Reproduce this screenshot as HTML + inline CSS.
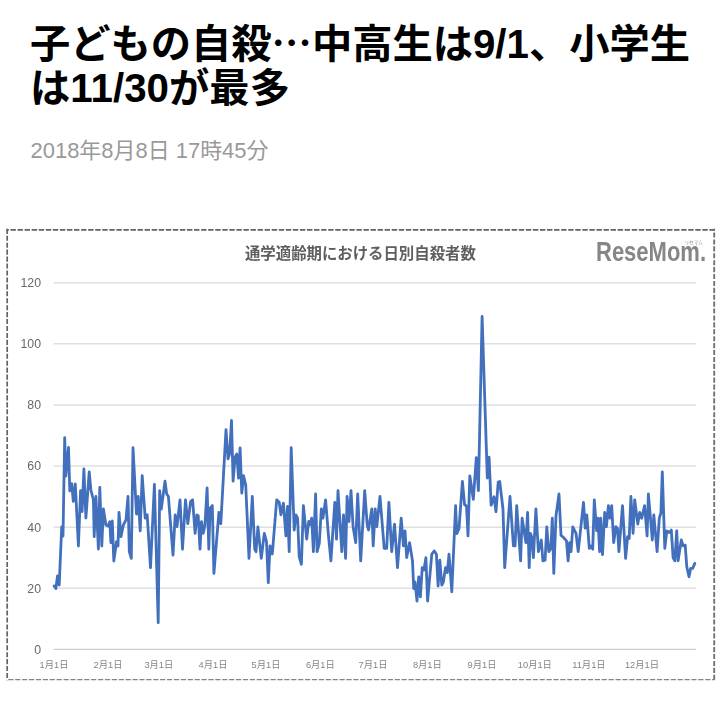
<!DOCTYPE html>
<html lang="ja"><head><meta charset="utf-8"><title>子どもの自殺…中高生は9/1、小学生は11/30が最多</title>
<style>
html,body{margin:0;padding:0;background:#fff}
body{width:720px;height:707px;overflow:hidden;position:relative;font-family:"Liberation Sans",sans-serif;color:#000}
article{position:absolute;left:0;top:0;width:720px;height:707px}
h1,p,figure{margin:0;padding:0;position:absolute;left:0;top:0}
svg{display:block;position:absolute;left:0;top:0}
</style></head><body>
<article>
<h1 aria-label="子どもの自殺…中高生は9/1、小学生は11/30が最多"><svg width="720" height="120" viewBox="0 0 720 120" role="img"><title>子どもの自殺…中高生は9/1、小学生は11/30が最多</title><g fill="#000" font-family="'Liberation Sans','Noto Sans CJK JP',sans-serif" font-size="40" font-weight="bold"><text x="30" y="57.8" textLength="660" lengthAdjust="spacingAndGlyphs">子どもの自殺<tspan font-family="'Noto Sans CJK JP',sans-serif">…</tspan>中高生は9/1、小学生</text><text x="30" y="102.2" textLength="260" lengthAdjust="spacingAndGlyphs">は11/30が最多</text></g></svg></h1>
<p aria-label="2018年8月8日 17時45分"><svg width="720" height="180" viewBox="0 0 720 180" role="img"><title>2018年8月8日 17時45分</title><text x="30.5" y="157.6" font-family="'Liberation Sans','Noto Sans CJK JP',sans-serif" font-size="22" fill="#999" textLength="238" lengthAdjust="spacingAndGlyphs">2018年8月8日 17時45分</text></svg></p>
<figure><svg width="720" height="707" viewBox="0 0 720 707" role="img"><title>通学適齢期における日別自殺者数 ReseMom</title><defs><filter id="soft" x="-5%" y="-5%" width="110%" height="110%"><feGaussianBlur stdDeviation="0.45"/></filter></defs><g filter="url(#soft)">
<g fill="none"><path d="M6.4 229.8H714.9" stroke="#636363" stroke-width="1.7" stroke-dasharray="5.4 1.66" stroke-dashoffset="2.98"/><path d="M6.4 679.6H714.9" stroke="#858585" stroke-width="1.15" stroke-dasharray="5.2 1.7" stroke-dashoffset="5.0"/><path d="M7.2 228.8V680.2" stroke="#636363" stroke-width="1.7" stroke-dasharray="5.1 1.84"/><path d="M714.2 228.8V680.2" stroke="#6e6e6e" stroke-width="1.8" stroke-dasharray="5.1 1.81" stroke-dashoffset="3.2"/></g>
<g stroke="#e0e0e0" stroke-width="1.5"><line x1="53.5" x2="696" y1="588.3" y2="588.3"/><line x1="53.5" x2="696" y1="527.2" y2="527.2"/><line x1="53.5" x2="696" y1="466.0" y2="466.0"/><line x1="53.5" x2="696" y1="404.9" y2="404.9"/><line x1="53.5" x2="696" y1="343.8" y2="343.8"/><line x1="53.5" x2="696" y1="282.7" y2="282.7"/></g>
<line x1="53.5" x2="696" y1="649.4" y2="649.4" stroke="#cdcdcd" stroke-width="1.4"/>
<g fill="#686868" font-family="'Liberation Sans',sans-serif" font-size="12.3" text-anchor="end"><text x="41" y="653.7">0</text><text x="41" y="592.6">20</text><text x="41" y="531.5">40</text><text x="41" y="470.4">60</text><text x="41" y="409.3">80</text><text x="41" y="348.15">100</text><text x="41" y="287">120</text></g>
<g fill="#858585" font-family="'Liberation Sans','Noto Sans CJK JP',sans-serif" font-size="9.3"><text x="39.5" y="667.7">1月1日</text><text x="93.5" y="667.7">2月1日</text><text x="144.4" y="667.7">3月1日</text><text x="198.5" y="667.7">4月1日</text><text x="251.5" y="667.7">5月1日</text><text x="305.9" y="667.7">6月1日</text><text x="358.5" y="667.7">7月1日</text><text x="412.9" y="667.7">8月1日</text><text x="467.5" y="667.7">9月1日</text><text x="517.8" y="667.7">10月1日</text><text x="572.2" y="667.7">11月1日</text><text x="624.9" y="667.7">12月1日</text></g>
<text x="360.4" y="259.2" text-anchor="middle" font-family="'Liberation Sans','Noto Sans CJK JP',sans-serif" font-size="15.4" font-weight="bold" fill="#5e5e5e">通学適齢期における日別自殺者数</text>
<g fill="#868686"><text x="596" y="261" font-family="'Liberation Sans',sans-serif" font-size="27.6" font-weight="bold" textLength="110" lengthAdjust="spacingAndGlyphs">ReseMom.</text><text x="684.8" y="243.5" font-family="'Liberation Sans','Noto Sans CJK JP',sans-serif" font-size="4.5" fill="#8c8c8c">リセマム</text></g>
<path d="M54.2 586.0L55.9 588.5L57.5 576.0L59.2 585.0L61.7 527.0L63.0 536.0L64.7 437.7L65.8 476.0L68.5 447.3L69.8 491.0L71.7 483.6L73.3 501.4L75.3 484.0L78.4 546.0L80.6 490.6L82.1 511.5L83.9 469.0L85.9 518.0L89.2 472.0L90.9 490.0L93.4 500.0L94.2 536.7L95.9 496.5L98.4 549.0L99.8 487.3L101.8 546.0L103.4 509.0L105.9 525.0L108.1 526.0L109.8 521.7L110.9 542.6L112.3 521.0L113.8 561.0L116.5 541.7L118.0 546.0L119.0 512.3L121.0 536.7L123.4 524.8L126.0 519.8L128.0 496.5L129.3 551.7L131.3 558.4L133.0 447.7L136.5 514.0L138.2 496.5L140.2 530.8L142.2 475.6L145.2 518.2L147.2 514.8L150.5 567.6L154.4 484.4L158.2 622.7L159.7 490.6L161.3 509.0L165.0 481.1L166.7 494.0L168.4 496.5L173.0 555.1L175.2 514.9L177.0 526.6L180.0 499.8L182.5 549.2L185.5 499.8L187.8 523.7L190.6 501.5L192.6 499.8L195.1 533.3L196.9 515.0L198.2 515.7L200.0 549.2L201.5 521.6L203.2 533.3L204.9 525.8L207.1 487.8L208.8 549.2L210.1 508.2L212.3 505.6L213.9 573.4L218.9 512.4L220.8 523.7L226.0 429.7L228.0 458.9L229.6 453.9L231.5 420.5L233.1 481.1L235.1 457.2L236.8 453.9L238.5 478.1L240.1 448.0L241.8 493.1L243.5 475.6L245.7 484.8L249.0 558.4L252.3 496.5L254.7 549.2L256.0 551.7L257.9 527.0L261.3 558.4L264.3 533.3L266.5 541.7L268.3 582.6L270.0 545.9L272.3 554.0L276.7 499.8L279.2 502.3L280.9 514.8L283.4 503.1L285.9 535.9L287.5 506.5L289.2 551.7L291.2 447.7L294.2 530.0L295.9 514.8L297.6 518.2L299.2 556.7L301.4 564.3L303.4 505.6L306.7 539.2L308.7 521.5L310.0 524.8L311.7 518.2L313.4 551.7L315.6 494.0L317.1 551.7L319.3 543.4L321.3 509.0L322.9 518.2L325.6 499.8L328.4 535.0L330.9 560.9L334.8 502.3L336.5 539.2L338.0 490.6L341.8 551.7L343.5 514.8L345.6 558.4L347.1 496.5L349.0 521.5L351.0 490.6L353.1 527.0L355.7 542.6L357.7 494.0L360.7 560.9L364.7 490.6L367.2 524.8L368.5 530.0L371.8 509.0L373.2 545.9L375.2 509.0L376.8 526.6L380.0 496.5L384.2 548.4L386.7 548.4L388.9 502.3L391.7 551.7L394.5 524.1L397.5 567.6L401.2 518.2L403.4 545.9L405.0 530.8L406.7 557.6L409.6 542.6L412.5 561.0L413.7 588.5L415.0 581.8L417.0 601.0L418.7 576.8L420.4 596.8L422.2 567.6L423.9 570.1L425.9 557.6L427.6 601.0L431.8 554.2L434.3 550.9L436.4 554.2L438.1 586.0L439.8 560.1L441.8 585.1L443.4 581.8L445.5 567.6L447.3 572.6L449.0 554.2L451.8 591.8L455.6 505.6L456.8 533.7L459.0 528.7L462.4 481.5L464.6 504.8L466.5 506.0L468.0 535.9L469.8 475.8L473.3 499.3L476.3 457.7L478.4 490.7L482.1 316.4L487.3 478.0L489.1 457.2L491.1 505.2L494.0 496.8L496.0 511.7L498.2 482.0L499.7 481.5L503.0 509.0L504.7 567.6L510.0 496.5L513.4 545.9L515.1 545.9L516.7 505.6L520.6 560.9L522.1 518.2L525.9 542.6L527.6 512.3L529.2 567.6L530.4 533.3L531.7 536.7L533.4 557.6L535.9 509.0L538.4 551.7L541.3 540.0L542.9 560.9L545.1 560.1L546.8 527.0L548.8 551.7L550.9 548.4L552.3 518.2L553.8 573.4L556.0 515.7L559.0 494.0L561.0 535.4L563.5 537.5L566.5 540.9L568.1 560.9L569.6 542.6L571.0 551.7L572.8 527.0L576.0 533.3L578.2 551.7L583.5 502.3L585.2 528.2L586.8 514.8L589.3 548.4L591.0 545.9L592.7 549.2L594.3 499.8L596.6 530.6L598.0 518.2L599.6 551.7L600.7 518.2L602.5 554.7L604.7 512.3L606.4 526.7L608.4 505.6L610.0 518.2L611.7 505.6L613.7 542.6L615.9 526.7L617.5 528.4L618.9 551.7L622.5 505.6L625.6 558.4L627.6 536.7L629.2 538.4L630.9 496.5L633.1 533.3L634.7 499.8L637.8 524.1L639.7 512.3L641.7 518.2L644.6 505.6L647.1 535.9L648.4 494.0L652.3 540.0L653.8 514.8L657.1 551.7L659.3 518.2L660.9 513.0L662.3 471.8L664.8 548.4L666.8 530.9L669.3 532.5L671.3 530.0L673.1 557.6L674.8 560.9L676.7 530.8L678.1 560.9L681.3 540.0L683.1 545.9L685.2 545.1L686.8 566.8L689.0 576.8L690.7 568.4L692.7 568.4L694.8 563.4" fill="none" stroke="#4270bc" stroke-width="2.8" stroke-linejoin="round" stroke-linecap="round"/>
</g></svg></figure>
</article>
</body></html>
